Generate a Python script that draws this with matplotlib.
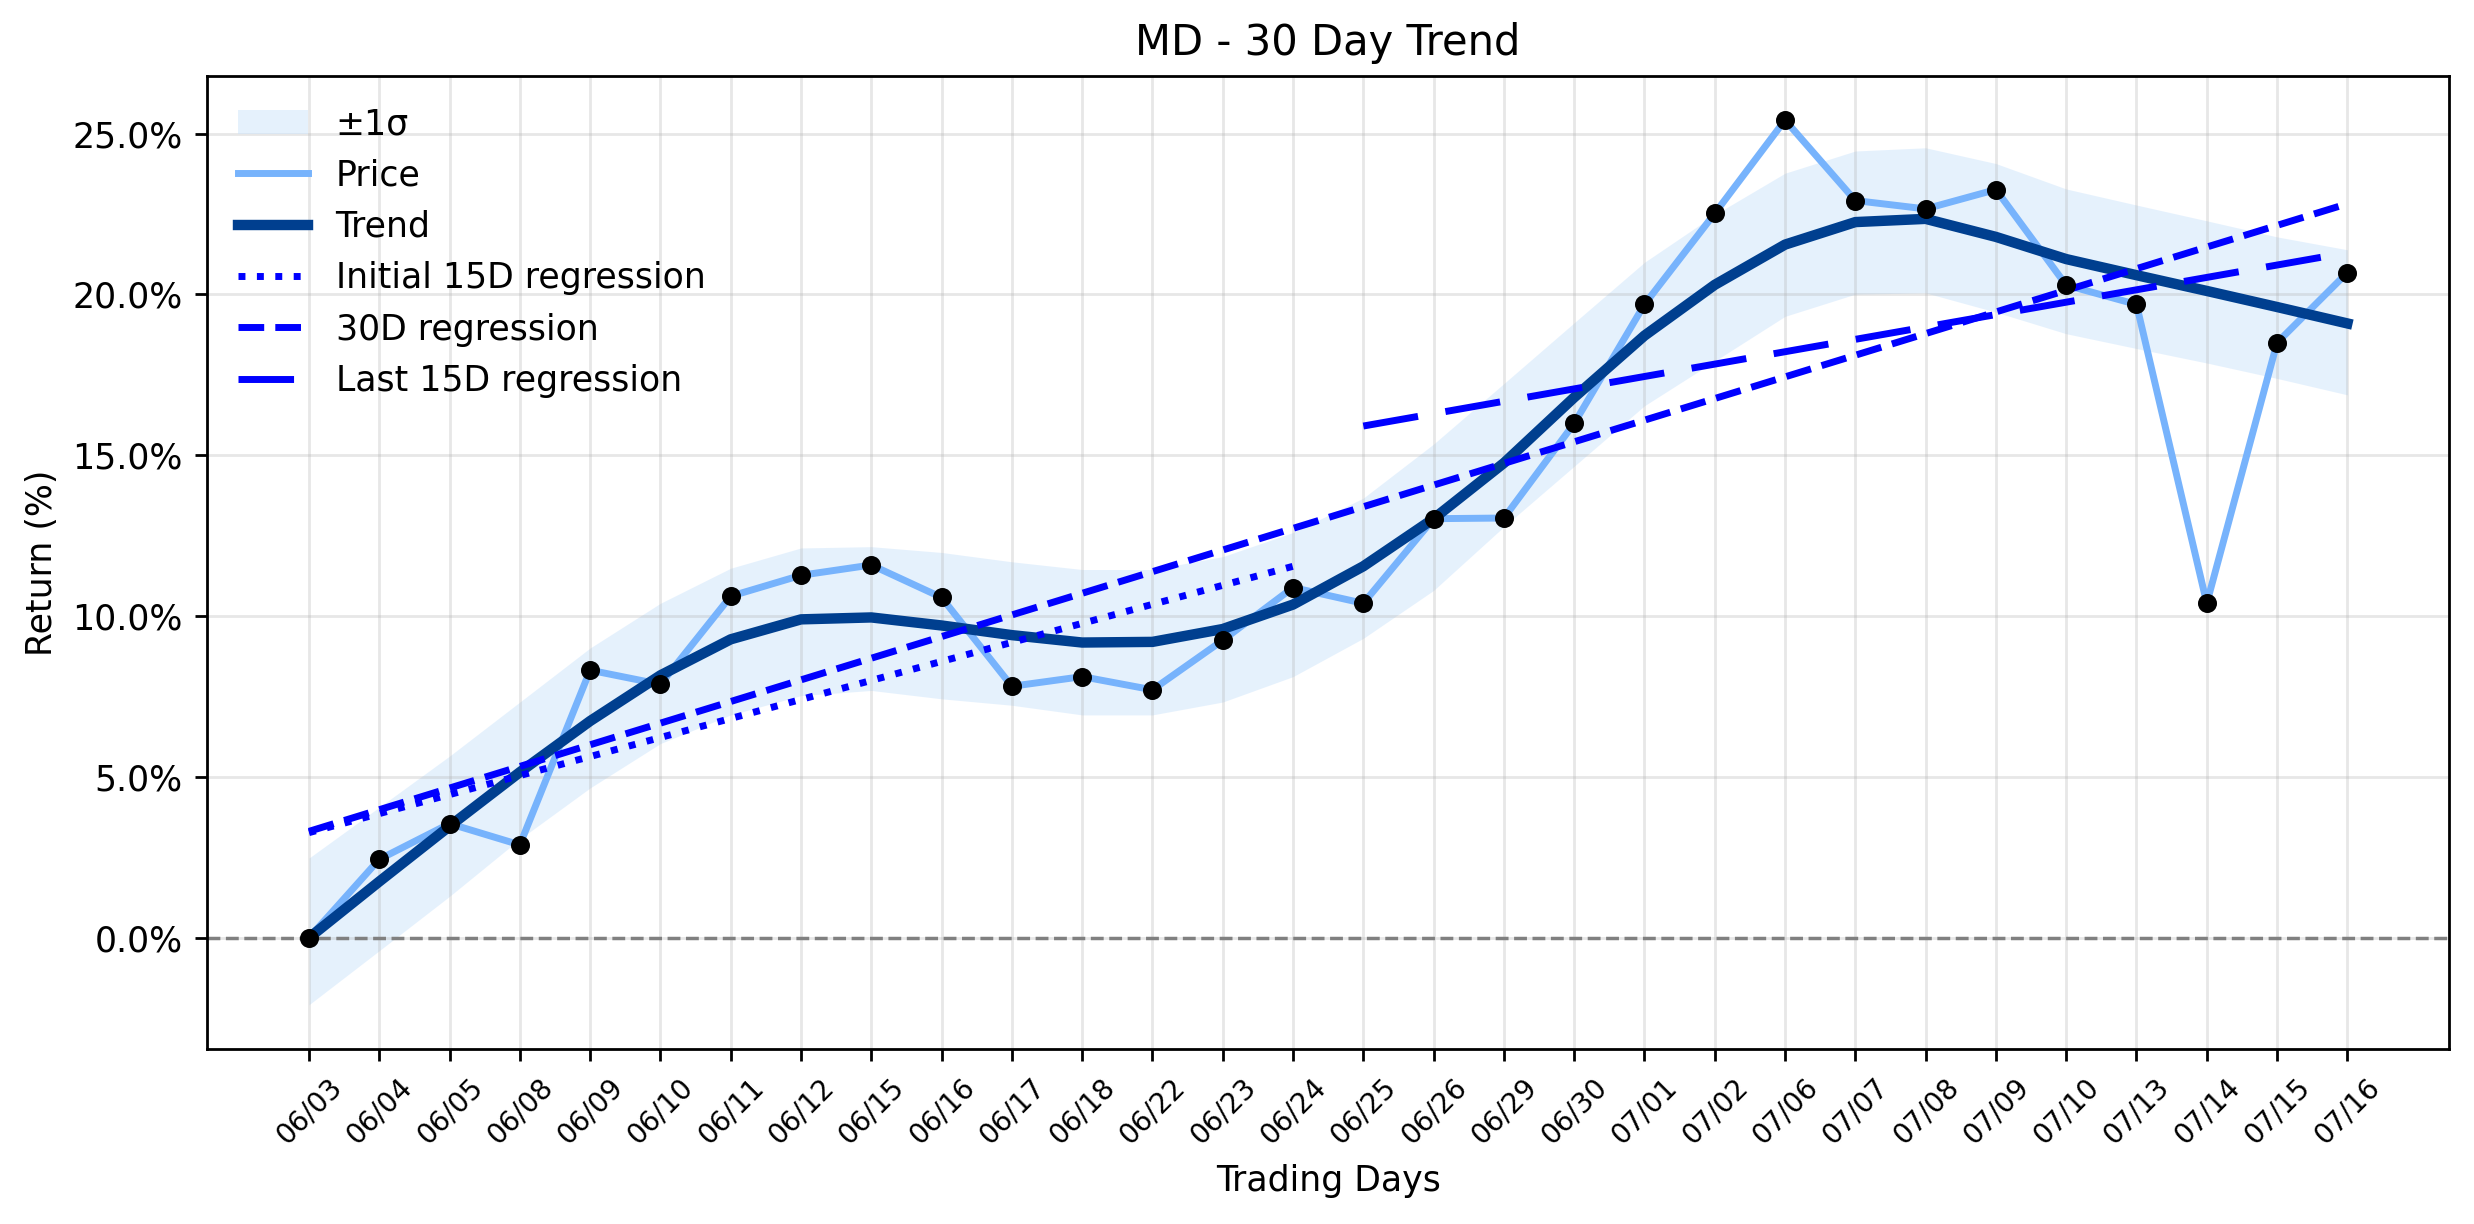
import numpy as np
import matplotlib
matplotlib.use("Agg")
import matplotlib.pyplot as plt
from matplotlib.ticker import FuncFormatter

dates = ["06/03", "06/04", "06/05", "06/08", "06/09", "06/10", "06/11", "06/12",
         "06/15", "06/16", "06/17", "06/18", "06/22", "06/23", "06/24", "06/25",
         "06/26", "06/29", "06/30", "07/01", "07/02", "07/06", "07/07", "07/08",
         "07/09", "07/10", "07/13", "07/14", "07/15", "07/16"]

price = [0.0, 2.44, 3.55, 2.89, 8.32, 7.88, 10.62, 11.27, 11.59, 10.58,
         7.82, 8.12, 7.71, 9.25, 10.89, 10.40, 13.03, 13.05, 15.99, 19.69,
         22.52, 25.42, 22.92, 22.66, 23.26, 20.29, 19.69, 10.40, 18.50, 20.68]

trend = [0.0, 1.75, 3.47, 5.15, 6.74, 8.16, 9.28, 9.90, 9.96, 9.71,
         9.41, 9.18, 9.20, 9.60, 10.36, 11.55, 13.03, 14.76, 16.80, 18.72,
         20.30, 21.55, 22.25, 22.35, 21.79, 21.10, 20.60, 20.11, 19.61, 19.10]

band_upper = [2.48, 4.06, 5.65, 7.33, 9.01, 10.40, 11.49, 12.12, 12.16, 11.98,
              11.69, 11.45, 11.45, 11.85, 12.60, 13.67, 15.35, 17.23, 19.12, 21.00,
              22.48, 23.77, 24.46, 24.56, 24.07, 23.28, 22.78, 22.29, 21.79, 21.39]
band_lower = [-2.08, -0.40, 1.29, 3.07, 4.66, 6.04, 6.93, 7.53, 7.69, 7.43,
              7.23, 6.93, 6.93, 7.33, 8.12, 9.31, 10.80, 12.78, 14.66, 16.54,
              17.93, 19.32, 20.01, 20.05, 19.45, 18.78, 18.32, 17.87, 17.39, 16.88]

# regression lines: (start index, end index, start value, end value)
reg_initial = (0, 14, 3.27, 11.55)
reg_30d = (0, 29, 3.31, 22.82)
reg_last = (15, 29, 15.91, 21.30)

x = np.arange(len(dates))

fig, ax = plt.subplots(figsize=(2474 / 250, 1224 / 250), dpi=250)
fig.subplots_adjust(left=0.0837, right=0.99, top=0.938, bottom=0.143)

ax.fill_between(x, band_lower, band_upper, color="#cce4fb", alpha=0.5,
                linewidth=0, label="±1σ")
ax.plot(x, price, color="#77b3fc", lw=2, label="Price")
ax.plot(x, trend, color="#003f8f", lw=3, label="Trend")
ax.scatter(x, price, color="black", s=20, zorder=5)

i0, i1, v0, v1 = reg_initial
ax.plot([i0, i1], [v0, v1], color="blue", lw=2, ls=":", label="Initial 15D regression")
i0, i1, v0, v1 = reg_30d
ax.plot([i0, i1], [v0, v1], color="blue", lw=2, ls="--", label="30D regression")
i0, i1, v0, v1 = reg_last
ax.plot([i0, i1], [v0, v1], color="blue", lw=2, dashes=(8, 4), label="Last 15D regression")

ax.axhline(0, color="gray", ls="--", lw=1)

ax.set_xticks(x)
ax.set_xticklabels(dates, rotation=45, fontsize=8)
ax.yaxis.set_major_formatter(FuncFormatter(lambda v, p: f"{v:.1f}%"))
ax.grid(True, alpha=0.3)
ax.set_title("MD - 30 Day Trend")
ax.set_xlabel("Trading Days")
ax.set_ylabel("Return (%)")
ax.legend(loc="upper left", frameon=False)

plt.savefig("out.png")
